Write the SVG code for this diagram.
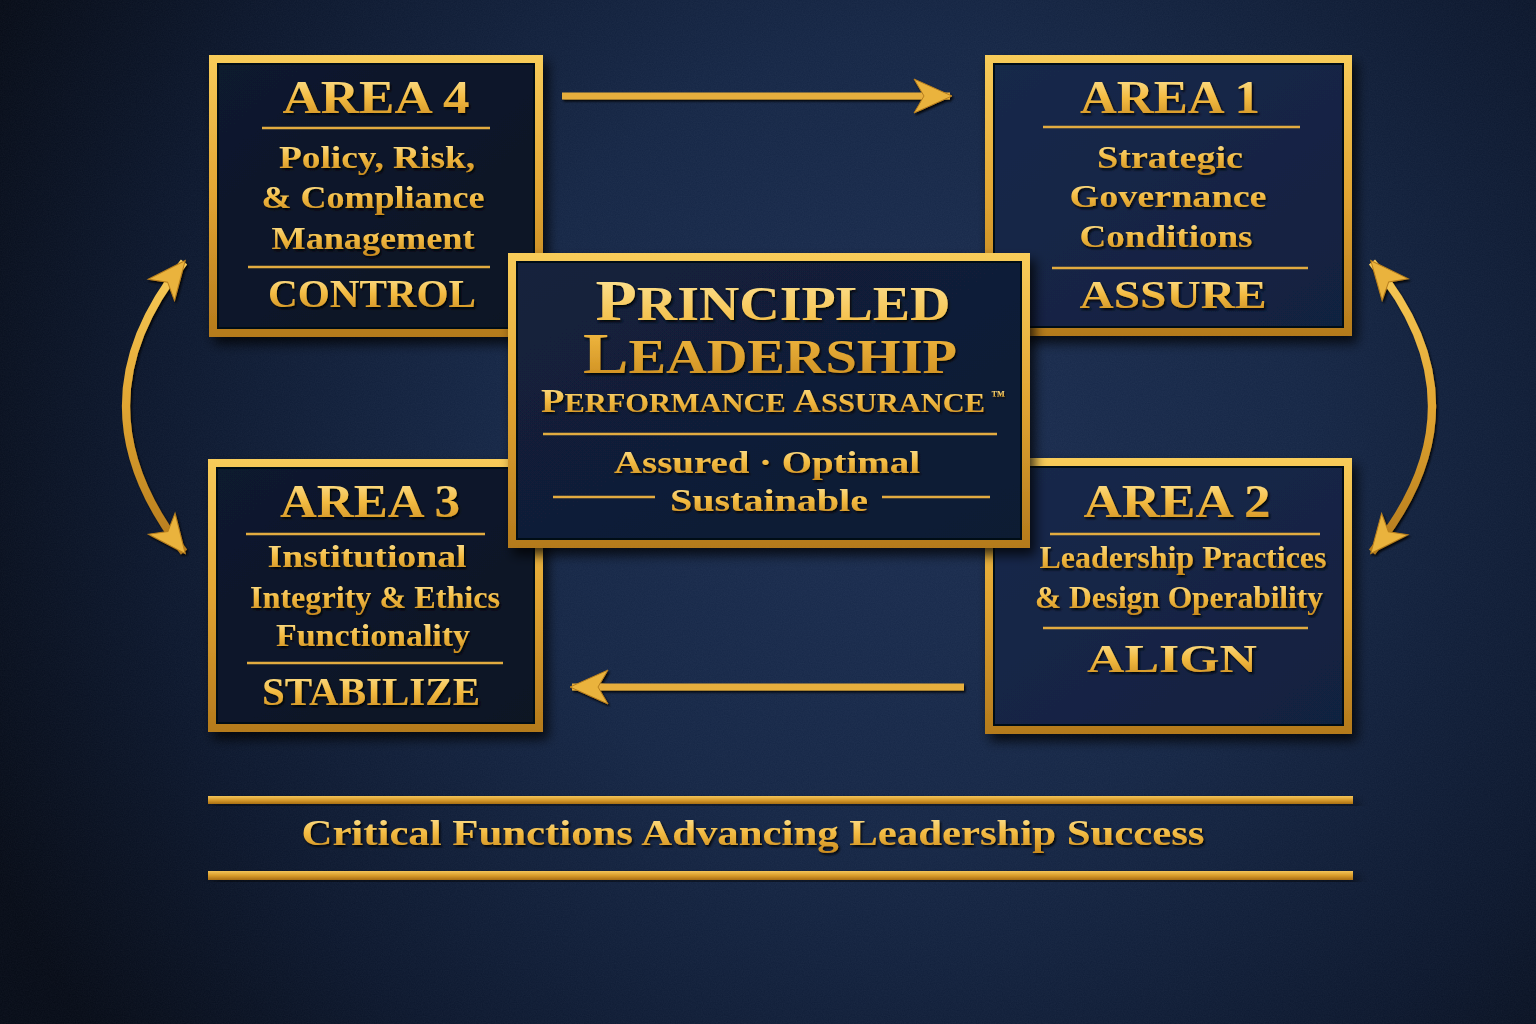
<svg xmlns="http://www.w3.org/2000/svg" width="1536" height="1024" viewBox="0 0 1536 1024">
<style>
.t{font-family:"Liberation Serif","Times New Roman",serif;font-weight:bold;fill:url(#goldText);text-anchor:middle;filter:url(#ts)}
.area{font-size:46px}
.body{font-size:31px}
.verb{font-size:39px}
.rule{stroke:#e2ab40;stroke-width:2.5}
.frame{fill:url(#goldFrame)}
.conn{fill:none;stroke:#e6ae3c;stroke-width:7;stroke-linecap:butt}
.arc{fill:none;stroke:url(#goldFrame);stroke-width:8}
</style>
<defs>
<radialGradient id="bg" cx="900" cy="440" r="1000" gradientUnits="userSpaceOnUse">
<stop offset="0" stop-color="#1b2d50"/>
<stop offset="0.4" stop-color="#152645"/>
<stop offset="0.75" stop-color="#0c172d"/>
<stop offset="1" stop-color="#060b16"/>
</radialGradient>
<linearGradient id="goldFrame" x1="0" y1="0" x2="0" y2="1">
<stop offset="0" stop-color="#f8cc5a"/>
<stop offset="0.5" stop-color="#e1a532"/>
<stop offset="1" stop-color="#b47a1c"/>
</linearGradient>
<linearGradient id="goldBar" x1="0" y1="0" x2="0" y2="1">
<stop offset="0" stop-color="#f3c458"/>
<stop offset="0.5" stop-color="#d99c2c"/>
<stop offset="1" stop-color="#a86e16"/>
</linearGradient>
<linearGradient id="goldText" x1="0" y1="0" x2="0" y2="1">
<stop offset="0" stop-color="#ffe9a0"/>
<stop offset="0.5" stop-color="#f3bb42"/>
<stop offset="1" stop-color="#c98a1e"/>
</linearGradient>
<linearGradient id="panelDark" x1="0" y1="0" x2="1" y2="1">
<stop offset="0" stop-color="#0f1a2f"/>
<stop offset="1" stop-color="#0a1324"/>
</linearGradient>
<linearGradient id="panelBlue" x1="0" y1="0" x2="1" y2="1">
<stop offset="0" stop-color="#18294a"/>
<stop offset="1" stop-color="#112040"/>
</linearGradient>
<linearGradient id="panelMid" x1="0" y1="0" x2="1" y2="1">
<stop offset="0" stop-color="#13213c"/>
<stop offset="1" stop-color="#0f1b33"/>
</linearGradient>
<filter id="ds" x="-10%" y="-10%" width="125%" height="130%">
<feDropShadow dx="5" dy="7" stdDeviation="6" flood-color="#000" flood-opacity="0.75"/>
</filter>
<filter id="ts" x="-5%" y="-20%" width="110%" height="150%">
<feDropShadow dx="1.5" dy="2" stdDeviation="1.2" flood-color="#000" flood-opacity="0.85"/>
</filter>
<filter id="noise" x="0" y="0" width="100%" height="100%">
<feTurbulence type="fractalNoise" baseFrequency="0.85" numOctaves="2" seed="3"/>
<feColorMatrix type="matrix" values="0 0 0 0 0.6  0 0 0 0 0.7  0 0 0 0 0.9  0 0 0 0.35 0"/>
<feComposite in2="SourceGraphic" operator="in"/>
</filter>
<marker id="ah" viewBox="-38 -19 42 38" refX="0" refY="0" markerWidth="42" markerHeight="38" markerUnits="userSpaceOnUse" orient="auto-start-reverse">
<path d="M2,0 L-36,-17 L-26,0 L-36,17 Z" fill="#eab33c" stroke="#b77e1e" stroke-width="1"/>
</marker>
</defs>

<rect width="1536" height="1024" fill="url(#bg)"/>
<rect width="1536" height="1024" fill="#fff" filter="url(#noise)" opacity="0.15"/>

<g id="connectors" filter="url(#ts)">
<path class="conn" d="M562,96 L950,96" marker-end="url(#ah)"/>
<path class="conn" d="M964,687 L572,687" marker-end="url(#ah)"/>
<path class="arc" d="M184,262 Q68,405 184,552" marker-start="url(#ah)" marker-end="url(#ah)"/>
<path class="arc" d="M1372,262 Q1492,405 1372,552" marker-start="url(#ah)" marker-end="url(#ah)"/>
</g>

<g id="area4" filter="url(#ds)">
<rect class="frame" x="209" y="55" width="334" height="282"/>
<rect x="218" y="64" width="316" height="264" fill="url(#panelDark)" stroke="#060a14" stroke-width="2"/>
<text class="t area" x="376" y="113" textLength="187" lengthAdjust="spacingAndGlyphs">AREA 4</text>
<line class="rule" x1="262" y1="128" x2="490" y2="128"/>
<text class="t body" x="377" y="168" textLength="196" lengthAdjust="spacingAndGlyphs">Policy, Risk,</text>
<text class="t body" x="373" y="208" textLength="223" lengthAdjust="spacingAndGlyphs">&amp; Compliance</text>
<text class="t body" x="373" y="249" textLength="203" lengthAdjust="spacingAndGlyphs">Management</text>
<line class="rule" x1="248" y1="267" x2="490" y2="267"/>
<text class="t verb" x="372" y="307" textLength="208" lengthAdjust="spacingAndGlyphs">CONTROL</text>
</g>

<g id="area1" filter="url(#ds)">
<rect class="frame" x="985" y="55" width="367" height="281"/>
<rect x="994" y="64" width="349" height="263" fill="url(#panelBlue)" stroke="#060a14" stroke-width="2"/>
<text class="t area" x="1170" y="113" textLength="180" lengthAdjust="spacingAndGlyphs">AREA 1</text>
<line class="rule" x1="1043" y1="127" x2="1300" y2="127"/>
<text class="t body" x="1170" y="168" textLength="146" lengthAdjust="spacingAndGlyphs">Strategic</text>
<text class="t body" x="1168" y="207" textLength="197" lengthAdjust="spacingAndGlyphs">Governance</text>
<text class="t body" x="1166" y="247" textLength="173" lengthAdjust="spacingAndGlyphs">Conditions</text>
<line class="rule" x1="1052" y1="268" x2="1308" y2="268"/>
<text class="t verb" x="1173" y="308" textLength="187" lengthAdjust="spacingAndGlyphs">ASSURE</text>
</g>

<g id="area3" filter="url(#ds)">
<rect class="frame" x="208" y="459" width="335" height="273"/>
<rect x="217" y="468" width="317" height="255" fill="url(#panelDark)" stroke="#060a14" stroke-width="2"/>
<text class="t area" x="370" y="517" textLength="180" lengthAdjust="spacingAndGlyphs">AREA 3</text>
<line class="rule" x1="246" y1="534" x2="485" y2="534"/>
<text class="t body" x="367" y="567" textLength="199" lengthAdjust="spacingAndGlyphs">Institutional</text>
<text class="t body" x="375" y="608" textLength="250" lengthAdjust="spacingAndGlyphs">Integrity &amp; Ethics</text>
<text class="t body" x="373" y="646" textLength="194" lengthAdjust="spacingAndGlyphs">Functionality</text>
<line class="rule" x1="247" y1="663" x2="503" y2="663"/>
<text class="t verb" x="371" y="705" textLength="218" lengthAdjust="spacingAndGlyphs">STABILIZE</text>
</g>

<g id="area2" filter="url(#ds)">
<rect class="frame" x="985" y="458" width="367" height="276"/>
<rect x="994" y="467" width="349" height="258" fill="url(#panelBlue)" stroke="#060a14" stroke-width="2"/>
<text class="t area" x="1177" y="517" textLength="187" lengthAdjust="spacingAndGlyphs">AREA 2</text>
<line class="rule" x1="1050" y1="534" x2="1320" y2="534"/>
<text class="t body" x="1183" y="568" textLength="287" lengthAdjust="spacingAndGlyphs">Leadership Practices</text>
<text class="t body" x="1179" y="608" textLength="288" lengthAdjust="spacingAndGlyphs">&amp; Design Operability</text>
<line class="rule" x1="1043" y1="628" x2="1308" y2="628"/>
<text class="t verb" x="1172" y="672" textLength="170" lengthAdjust="spacingAndGlyphs">ALIGN</text>
</g>

<g id="center" filter="url(#ds)">
<rect class="frame" x="508" y="253" width="522" height="295"/>
<rect x="517" y="262" width="504" height="277" fill="url(#panelMid)" stroke="#060a14" stroke-width="2"/>
<text class="t"><tspan x="773" y="320" textLength="355" lengthAdjust="spacingAndGlyphs"><tspan font-size="58">P</tspan><tspan font-size="48">RINCIPLED</tspan></tspan><tspan x="770" y="373" textLength="374" lengthAdjust="spacingAndGlyphs"><tspan font-size="58">L</tspan><tspan font-size="48">EADERSHIP</tspan></tspan></text>
<text class="t" x="763" y="412" textLength="444" lengthAdjust="spacingAndGlyphs"><tspan font-size="34">P</tspan><tspan font-size="27">ERFORMANCE </tspan><tspan font-size="34">A</tspan><tspan font-size="27">SSURANCE</tspan></text>
<text class="t" x="998" y="400" font-size="14">™</text>
<line class="rule" x1="543" y1="434" x2="997" y2="434"/>
<text class="t body" x="767" y="473" font-size="33" textLength="306" lengthAdjust="spacingAndGlyphs">Assured · Optimal</text>
<line class="rule" x1="553" y1="497" x2="655" y2="497"/>
<text class="t body" x="769" y="511" font-size="33" textLength="198" lengthAdjust="spacingAndGlyphs">Sustainable</text>
<line class="rule" x1="882" y1="497" x2="990" y2="497"/>
</g>

<g id="footer">
<rect x="208" y="796" width="1145" height="8" fill="url(#goldBar)" filter="url(#ds)"/>
<text class="t" x="753" y="845" font-size="36" textLength="903" lengthAdjust="spacingAndGlyphs">Critical Functions Advancing Leadership Success</text>
<rect x="208" y="871" width="1145" height="9" fill="url(#goldBar)" filter="url(#ds)"/>
</g>
</svg>
